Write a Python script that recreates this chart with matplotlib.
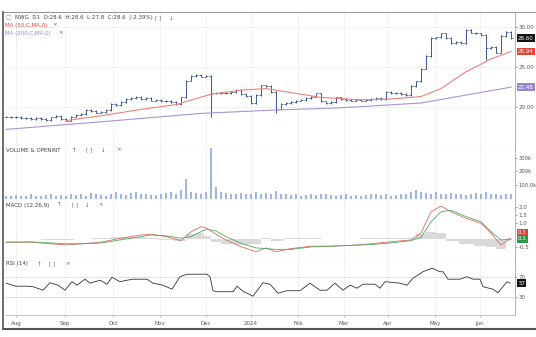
import numpy as np
import matplotlib.pyplot as plt
from matplotlib.lines import Line2D

# daily-ish closes (every ~5 px on the original chart)
close = [18.8, 18.7, 18.8, 18.6, 18.6, 18.5, 18.6, 18.5, 18.4, 18.7,
         18.9, 18.5, 18.3, 18.8, 19.0, 19.1, 19.6, 19.5, 19.3, 19.4,
         19.6, 20.4, 20.2, 20.6, 21.0, 21.1, 21.3, 21.0, 21.1, 20.8,
         20.9, 20.7, 20.8, 20.6, 20.4, 21.2, 23.3, 23.9, 24.0, 23.8,
         23.9, 21.8, 21.7, 21.8, 21.7, 21.9, 22.1, 21.6, 21.4, 20.5,
         21.5, 22.7, 22.6, 21.9, 19.8, 20.4, 20.5, 20.6, 20.8, 20.9,
         21.1, 21.3, 21.7, 20.7, 20.5, 20.6, 21.2, 21.0, 20.9, 20.8,
         20.9, 20.8, 20.9, 21.0, 21.1, 21.0, 21.9, 21.7, 21.8, 21.6,
         21.5, 22.6, 23.2, 24.8, 26.4, 28.6, 28.7, 29.2, 28.6, 28.0,
         28.1, 28.0, 29.6, 29.3, 29.2, 29.0, 27.4, 27.5, 26.8, 28.9,
         29.4, 28.6]
# long lower wicks seen on the chart
wick_lows = {41: 18.8, 54: 19.3, 96: 25.9}

vol_k = [20, 15, 25, 18, 22, 30, 15, 20, 25, 35,
         20, 25, 18, 30, 28, 35, 22, 40, 30, 25,
         20, 35, 45, 30, 25, 40, 50, 35, 30, 28,
         25, 30, 40, 45, 35, 60, 145, 50, 40, 35,
         45, 375, 85, 45, 40, 35, 30, 40, 35, 30,
         45, 30, 40, 35, 55, 35, 30, 25, 30, 20,
         25, 30, 25, 35, 30, 25, 20, 25, 30, 20,
         25, 20, 25, 30, 35, 25, 30, 20, 25, 30,
         35, 45, 60, 50, 40, 35, 45, 30, 35, 40,
         30, 35, 25, 30, 40, 30, 45, 35, 30, 25,
         35, 30]

ma50_idx = [12, 19, 27, 34, 41, 47, 52, 57, 63, 71, 77, 83, 87, 92, 97, 101]
ma50_val = [18.3, 18.9, 19.7, 20.3, 21.6, 22.1, 22.3, 21.8, 21.2, 20.9, 21.0, 21.3, 22.3, 24.4, 26.0, 26.94]
ma200_idx = [0, 20, 39, 53, 67, 83, 101]
ma200_val = [17.2, 18.2, 19.2, 19.6, 19.9, 20.5, 22.48]

macd_idx = [0, 5, 9, 12, 15, 19, 23, 27, 29, 32, 35, 37, 39, 40, 42, 44, 47, 50, 52, 54,
            57, 61, 65, 69, 73, 77, 81, 83, 85, 87, 89, 92, 95, 97, 99, 101]
macd_val = [-0.2, -0.2, -0.3, -0.37, -0.3, -0.2, 0.05, 0.25, 0.3, 0.15, -0.1, 0.45, 0.77, 0.7, 0.3, -0.06, -0.48, -0.8, -0.56, -0.8,
            -0.6, -0.45, -0.45, -0.4, -0.3, -0.17, -0.06, 0.37, 1.7, 2.06, 1.7, 1.29, 0.98, 0.37, -0.37, 0.04]
signal_val = [-0.2, -0.18, -0.25, -0.3, -0.3, -0.25, -0.05, 0.15, 0.25, 0.2, 0.05, 0.15, 0.45, 0.62, 0.5, 0.15, -0.27, -0.56, -0.6, -0.65,
              -0.65, -0.5, -0.45, -0.4, -0.35, -0.25, -0.1, 0.1, 1.08, 1.7, 1.8, 1.4, 1.08, 0.46, -0.06, -0.02]
hist_val = [0, 0, -0.05, -0.07, 0, 0.05, 0.1, 0.1, 0.05, -0.05, -0.15, 0.3, 0.35, 0.2, -0.2, -0.3, -0.4, -0.3, 0.04, -0.15,
            0.05, 0.05, 0, 0, 0.05, 0.08, 0.04, 0.3, 0.45, 0.35, -0.1, -0.3, -0.45, -0.5, -0.6, 0.06]

rsi_idx = [0, 2, 4, 5.4, 7.4, 8.8, 10.4, 11.8, 13.2, 14.2, 15.8, 16.8, 18.8, 20.2, 21.2, 22.8, 24.2, 25.4, 28.2, 29.4,
           31.4, 33.2, 34.8, 36.2, 40.2, 40.8, 41.4, 42.2, 45.4, 46.2, 47.4, 49.4, 51.4, 52.8, 54.4, 56.2, 58.8, 60.8, 62.8, 64.2,
           65.8, 67.4, 68.8, 70.2, 71.4, 73.8, 74.8, 75.8, 78.8, 80.2, 81.4, 83.4, 85.2, 86.8, 87.4, 88.4, 90.8, 92.2, 93.4, 94.8,
           95.4, 97.4, 98.4, 100.2, 100.8]
rsi_val = [57, 51, 51, 50, 43, 58, 53, 43, 60, 53, 65, 57, 63, 55, 69, 60, 63, 65, 65, 57,
           53, 45, 70, 75, 75, 70, 42, 40, 40, 51, 41, 31, 58, 55, 37, 42, 42, 57, 43, 43,
           57, 43, 53, 47, 55, 55, 47, 60, 57, 53, 67, 80, 87, 80, 80, 65, 65, 70, 65, 65,
           50, 45, 38, 60, 57]

month_pos = [2, 11.8, 21.4, 30.8, 40, 49, 58.4, 67.6, 76.4, 85.8, 94.8]
month_lab = ['Aug', 'Sep', 'Oct', 'Nov', 'Dec', '2024', 'Feb', 'Mar', 'Apr', 'May', 'Jun']

W, H = 536, 337
fig = plt.figure(figsize=(W / 100, H / 100), dpi=100)
plt.rcParams['font.family'] = ['DejaVu Sans']

def px_axes(y0, y1, x0=5, x1=515):
    return fig.add_axes([x0 / W, 1 - y1 / H, (x1 - x0) / W, (y1 - y0) / H])

ax_p = px_axes(12, 145)
ax_v = px_axes(145, 200)
ax_m = px_axes(200, 258)
ax_r = px_axes(258, 315)
axes = [ax_p, ax_v, ax_m, ax_r]

GRID = '#ececec'
for ax in axes:
    ax.set_xlim(-0.2, 101.8)
    for s in ['left', 'top']:
        ax.spines[s].set_visible(False)
    ax.spines['bottom'].set_color('#d6d6d6')
    ax.spines['bottom'].set_linewidth(0.9)
    ax.spines['right'].set_color('#aaaaaa')
    ax.spines['right'].set_linewidth(0.6)
    ax.yaxis.tick_right()
    ax.tick_params(axis='y', labelsize=4, colors='#555555', length=1.5, width=0.4, pad=1)
    ax.set_xticks(month_pos)
    ax.tick_params(axis='x', length=0, labelbottom=False)
    for m in month_pos:
        ax.axvline(m, color=GRID, lw=0.5, zorder=0)

# ---- price panel ----
idx = np.arange(len(close))
opens = [close[0]] + close[:-1]
highs = [max(o, c) + 0.1 for o, c in zip(opens, close)]
lows = [min(o, c) - 0.1 for o, c in zip(opens, close)]
for k, v in wick_lows.items():
    lows[k] = v
BAR = '#3c5796'
ax_p.vlines(idx, lows, highs, color=BAR, lw=0.7)
ax_p.hlines(opens, idx - 0.45, idx, color=BAR, lw=0.6)
ax_p.hlines(close, idx, idx + 0.45, color=BAR, lw=0.6)
ax_p.plot(ma50_idx, ma50_val, color='#e8837c', lw=0.8)
ax_p.plot(ma200_idx, ma200_val, color='#a894d6', lw=0.8)
ax_p.set_ylim(15.25, 31.875)
ax_p.set_yticks([20, 25, 30])
ax_p.set_yticklabels(['20.00', '25.00', '30.00'])
for t in [20, 25, 30]:
    ax_p.axhline(t, color=GRID, lw=0.5, zorder=0)

def box(ax, y, txt, fc):
    ax.text(1.006, y, txt, transform=ax.get_yaxis_transform(), fontsize=4, color='white',
            va='center', ha='left', bbox=dict(boxstyle='square,pad=0.25', fc=fc, ec='none'),
            clip_on=False)

box(ax_p, close[-1], '28.60', '#111111')
box(ax_p, ma50_val[-1], '26.94', '#e0453a')
box(ax_p, ma200_val[-1], '22.48', '#9a86d0')

# ---- volume panel ----
ax_v.bar(idx, [v * 1000 for v in vol_k], width=0.45, color='#9fb5e3')
ax_v.set_ylim(-11000, 396000)
ax_v.set_yticks([100000, 200000, 300000])
ax_v.set_yticklabels(['100.0k', '200k', '300k'])
ax_v.tick_params(axis='y', labelsize=3.8)

# ---- MACD panel ----
ax_m.fill_between(macd_idx, hist_val, 0, step='mid', color='#dadada', lw=0)
ax_m.plot(macd_idx, macd_val, color='#e06a5e', lw=0.6)
ax_m.plot(macd_idx, signal_val, color='#52a866', lw=0.6)
ax_m.set_ylim(-1.19, 2.44)
ax_m.set_yticks([-0.5, 1.0, 1.5, 2.0])
ax_m.set_yticklabels(['-0.5', '1.0', '1.5', '2.0'])
box(ax_m, 0.4, '0.1', '#d9453a')
box(ax_m, 0.0, '0.1', '#2f9a45')

# ---- RSI panel ----
ax_r.axhline(70, color='#dddddd', lw=0.6)
ax_r.axhline(30, color='#dddddd', lw=0.6)
ax_r.plot(rsi_idx, rsi_val, color='#333333', lw=0.6)
ax_r.set_ylim(-6.6, 107.4)
ax_r.set_yticks([30, 70])
ax_r.set_yticklabels(['30', '70'])
box(ax_r, rsi_val[-1], '57', '#111111')
ax_r.tick_params(axis='x', length=1.5, width=0.4, colors='#999999', labelbottom=True,
                 labelsize=4, labelcolor='#555555', pad=3)
ax_r.set_xticklabels(month_lab)
ax_r.spines['bottom'].set_color('#bbbbbb')
ax_r.spines['bottom'].set_linewidth(0.6)

# ---- headers ----
def ftext(x, y, s, color='#444444', size=4):
    fig.text(x / W, 1 - y / H, s, fontsize=size, color=color, va='center', ha='left')

ftext(6, 18, '□', '#999999', 4)
ftext(15, 18, 'NWG  D1  O:28.6  H:28.6  L:27.8  C:28.6  (-2.39%)')
ftext(155, 18, '[ ]', '#666666')
ftext(169, 18, '↓', '#666666')
ftext(5, 25, 'MA (50,C,MA,0)', '#e0453a')
ftext(52, 25, '×', '#666666')
ftext(5, 33, 'MA (200,C,MA,0)', '#9a86d0')
ftext(58, 33, '×', '#666666')

ftext(6, 150, 'VOLUME & OPENINT')
for x, s in zip([72, 86, 101, 116], ['↑', '[ ]', '↓', '×']):
    ftext(x, 150, s, '#666666')
ftext(6, 205, 'MACD (12,26,9)')
for x, s in zip([57, 72, 85, 98], ['↑', '[ ]', '↓', '×']):
    ftext(x, 205, s, '#666666')
ftext(6, 264, 'RSI (14)')
for x, s in zip([37, 49, 65], ['↑', '[ ]', '×']):
    ftext(x, 264, s, '#666666')

# ---- outer frame ----
fig.add_artist(Line2D([3 / W, 1], [1 - 12 / H, 1 - 12 / H], color='#9a9a9a', lw=0.8))
fig.add_artist(Line2D([3 / W, 3 / W], [1 - 12 / H, 1 - 329 / H], color='#555555', lw=1.2))
fig.add_artist(Line2D([3 / W, 1], [1 - 329 / H, 1 - 329 / H], color='#555555', lw=1.5))

fig.savefig('out.png', dpi=100)
